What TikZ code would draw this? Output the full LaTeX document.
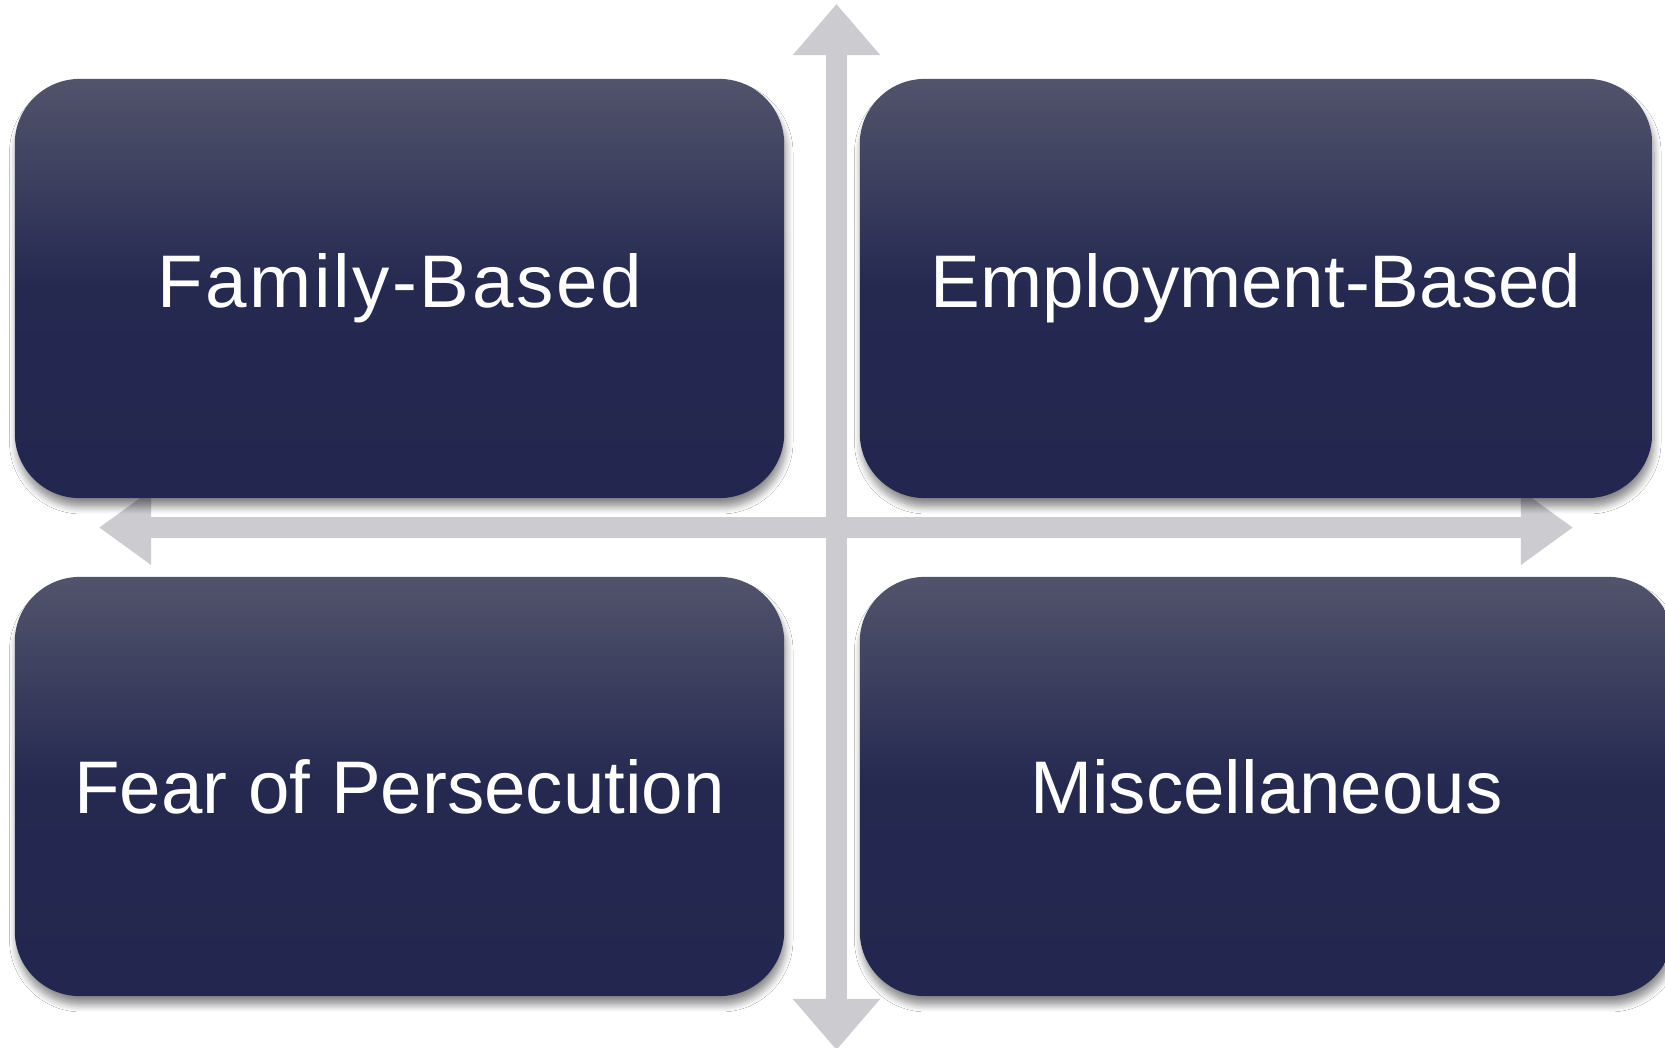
\documentclass[tikz,border=0pt]{standalone}
\usepackage{fontspec}
\setmainfont{Liberation Sans}
\usepackage{tikz}
\usetikzlibrary{arrows.meta, positioning, shadows.blur}

\definecolor{quadtop}{RGB}{82,84,108}
\definecolor{quadbot}{RGB}{35,39,79}
\definecolor{axisgray}{RGB}{203,203,208}
\pgfdeclareverticalshading{quadshade}{100bp}{color(0bp)=(quadbot); color(25bp)=(quadbot); color(50bp)=(quadbot!96!quadtop); color(75bp)=(quadtop); color(100bp)=(quadtop)}

\tikzset{
  quad/.style={shade, shading=quadshade, rounded corners=0.65cm, minimum width=7.69cm,
    minimum height=4.19cm, inner sep=0pt, text=white, font=\fontsize{21.2}{25}\selectfont,
    blur shadow={shadow xshift=0.5pt, shadow yshift=-2.5pt, shadow blur radius=2pt,
      shadow blur steps=8, shadow opacity=45}},
  axis/.style={draw=axisgray, line width=0.21cm}
}

\begin{document}
\begin{tikzpicture}[x=0.01cm, y=-0.01cm]
  \clip (0,0) rectangle (1665,1047);
  \fill[white] (0,0) rectangle (1665,1047);

  % Axes
  \coordinate (vtop) at (836.5,4);
  \coordinate (vbot) at (836.5,1050);
  \coordinate (hleft) at (99,527.5);
  \coordinate (hright) at (1573,527.5);
  \draw[axis, {Triangle[length=0.51cm,width=0.84cm]}-{Triangle[length=0.51cm,width=0.84cm]}] (vtop) -- (vbot);
  \draw[axis, {Triangle[length=0.52cm,width=0.71cm]}-{Triangle[length=0.52cm,width=0.71cm]}] (hleft) -- (hright);

  % Quadrants
  \node[quad] (family) at (399.5,288.5) {\addfontfeature{LetterSpace=3.5}Family-Based};
  \node[quad, minimum width=7.92cm] (employ) at (1256,288.5) {Employment-Based};
  \node[quad] (fear) at (399.5,786.5) {Fear of Persecution};
  \node[quad, minimum width=8.13cm] (misc) at (1266.5,786.5) {Miscellaneous};
\end{tikzpicture}
\end{document}
